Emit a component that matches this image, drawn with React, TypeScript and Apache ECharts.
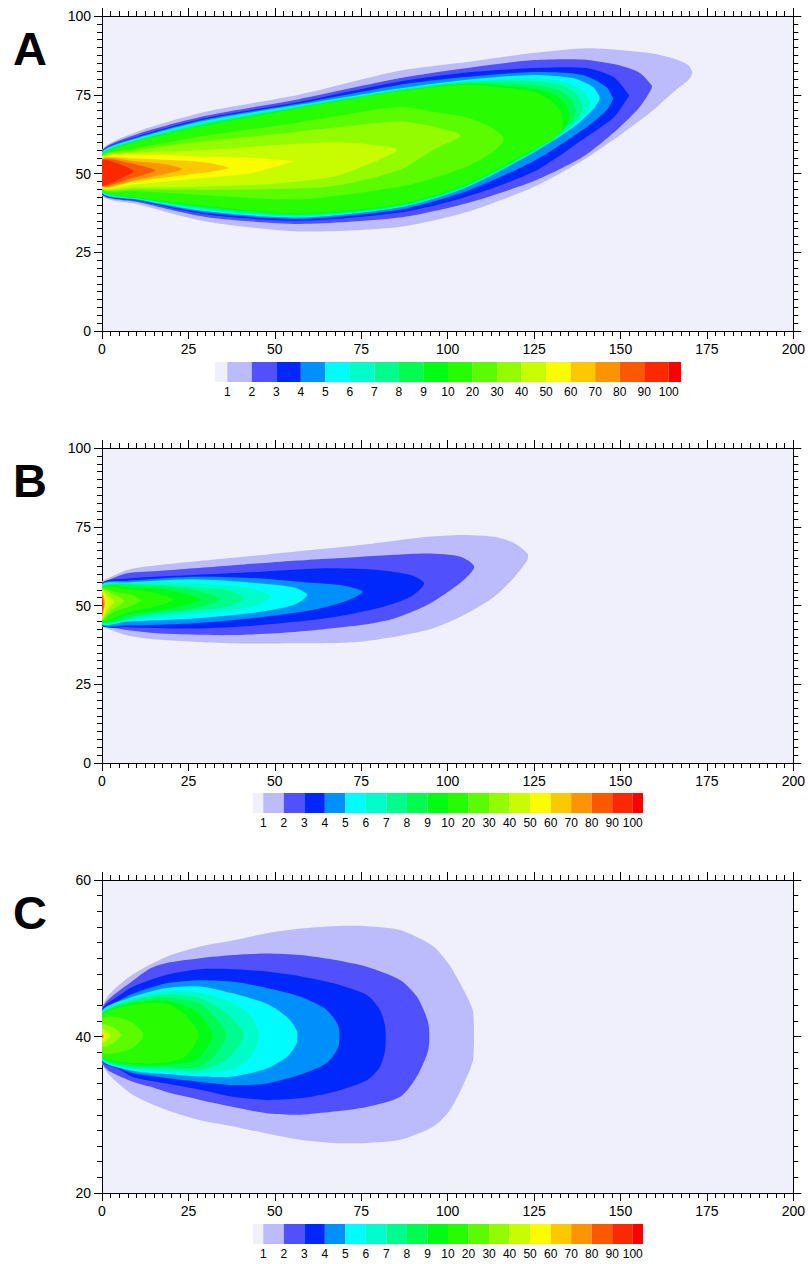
import React, { useEffect, useRef } from "react";
import * as echarts from "echarts";

// ---- colour scale (20 bands) and its labels ----
const cbColors = [
  "#f0f0fc", "#bcbcfc", "#5050fc", "#0028fc", "#0090fc", "#00fcfc", "#00fcc8",
  "#00fc8c", "#00fc50", "#00fc14", "#28fc00", "#5cfc00", "#94fc00", "#c8fc00",
  "#fcfc00", "#fcc800", "#fc9400", "#fc5800", "#fc2800", "#fc0000",
];
const cbLabels = ["1", "2", "3", "4", "5", "6", "7", "8", "9", "10", "20", "30", "40", "50", "60", "70", "80", "90", "100"];

// ---- axis ticks ----
const xTicks = [0, 25, 50, 75, 100, 125, 150, 175, 200];
const yTicksAB = [0, 25, 50, 75, 100];
const yTicksC = [20, 40, 60];

// ---- contour outlines: each contour = stations [x, yUpper, yLower] ----
const levelsA = [1, 2, 3, 4, 5, 6, 7, 8, 9, 10, 11, 12, 13, 14, 15, 16, 17, 18];
const plumeA = [
  [[0, 57.5, 43], [10, 63.2, 40.3], [30, 69.6, 34.8], [57, 75, 31.6], [86, 82.6, 33], [105, 85.3, 37.6], [125, 88.3, 45.8], [141, 89.8, 55.5], [158, 88.3, 68.8], [166, 86.3, 76.5], [169.5, 84.5, 79.5], [170.8, 82, 82]],
  [[0, 57.2, 43.3], [10, 62.4, 41], [30, 68.3, 36.2], [57, 73.6, 34], [86, 80.2, 36], [105, 83.4, 40.4], [125, 86, 47.6], [139, 86.2, 55.2], [149, 84.5, 63.9], [155.5, 82, 71], [159, 78, 77]],
  [[0, 57, 43.5], [10, 61.7, 41.4], [30, 67.6, 37], [57, 72.7, 35], [86, 79.2, 37.6], [105, 82, 42.5], [125, 83.5, 50.6], [140, 83.5, 61.5], [148, 80.6, 67.8], [152.4, 75, 74.5]],
  [[0, 56.8, 43.7], [10, 61.4, 41.6], [30, 67.2, 37.6], [57, 72.2, 35.6], [86, 78.1, 38.5], [105, 80.6, 44.2], [125, 82.2, 54], [139, 81.3, 63.8], [145.9, 77.5, 70], [147.8, 74, 73.5]],
  [[0, 56.6, 43.9], [10, 61.1, 41.8], [30, 66.8, 38], [57, 71.8, 36], [86, 77, 39.2], [105, 79.7, 45.4], [124.6, 81.3, 56.5], [136.2, 80.3, 64.5], [142, 77.5, 70.2], [143.9, 74.5, 73.5]],
  [[0, 56.4, 44.1], [10, 60.9, 42], [30, 66.4, 38.4], [57, 71.5, 36.3], [86, 76.8, 39.4], [105, 79.4, 45.6], [124.6, 80.3, 56.7], [134, 79, 63.5], [139.5, 76, 68.5], [141.3, 72.5, 71.5]],
  [[0, 56.2, 44.3], [10, 60.7, 42.1], [30, 66.1, 38.8], [57, 71.3, 36.6], [86, 76.6, 39.6], [105, 79.1, 45.8], [124.6, 79.3, 56.9], [133, 78, 63.3], [137.5, 75, 67.5], [139, 71.5, 70.5]],
  [[0, 56, 44.5], [10, 60.5, 42.2], [30, 65.8, 39.1], [57, 71.1, 36.9], [86, 76.4, 39.8], [105, 78.8, 46], [124.6, 78.2, 57.1], [132, 76.5, 62.8], [135.8, 73.5, 66.5], [137, 70.5, 69.5]],
  [[0, 55.9, 44.6], [10, 60.3, 42.3], [30, 65.5, 39.4], [57, 70.9, 37.1], [86, 76.2, 40], [105, 78.5, 46.2], [124.6, 77.1, 57.3], [131, 75, 61.5], [134.3, 72, 65], [135.2, 69, 68]],
  [[0, 55.8, 44.7], [10, 60.1, 42.4], [30, 65.2, 39.7], [57, 70.7, 37.3], [86, 76, 40.2], [105, 78.1, 46.4], [124.6, 76, 57.5], [130, 73, 60.5], [132.8, 69.5, 63.5], [133.3, 67, 66]],
  [[0, 55.6, 44.9], [9, 57.8, 44.5], [29, 61.8, 43.2], [57, 66.2, 41.8], [86, 71.2, 45.8], [95.8, 69.6, 48.5], [105.5, 67.8, 52.2], [112, 65, 56], [116, 61.7, 60]],
  [[0, 55.4, 45.1], [9, 57.2, 45], [29, 60.2, 44.8], [48, 62.2, 45], [67, 64.5, 46], [86, 66.5, 51.1], [95.8, 64.9, 57.5], [103.5, 62.5, 61.5]],
  [[0, 55.2, 45.3], [9, 56.6, 45.6], [29, 57.4, 45.9], [47.6, 58.8, 46.6], [67, 59.9, 49], [76.5, 59.3, 52.7], [85, 58, 57]],
  [[0, 55, 45.5], [9, 56, 46.5], [28.8, 55.4, 48.5], [43, 55, 50.1], [55.3, 54, 53.8]],
  [[0, 54.8, 45.7], [9, 54.8, 47.5], [20, 54.3, 49], [30, 53.5, 50.3], [36.5, 52, 51.6]],
  [[0, 54.6, 45.9], [10, 53.8, 48], [18, 53, 49.8], [23, 51.6, 51.2]],
  [[0, 54.4, 46.1], [8, 53.3, 48.3], [15.3, 51.2, 50.8]],
  [[0, 54.2, 46.3], [5, 53, 48.2], [9, 51, 50.5]],
];

const levelsB = [1, 2, 3, 4, 5, 6, 7, 8, 9, 10, 11, 12, 13, 14, 15, 16, 17, 18];
const plumeB = [
  [[0, 57.5, 43.3], [0.6, 58.1, 43], [7.3, 61.3, 40.5], [17, 62.9, 39.1], [36.3, 65, 38], [55.6, 67.1, 38], [74.9, 69.2, 38.5], [94.2, 71.8, 42.2], [103.8, 72.4, 46.5], [113.5, 71.8, 52.8], [119.3, 69.8, 59], [123.1, 66.5, 64.5]],
  [[0, 57.3, 43.5], [0.6, 57.6, 43.3], [7.3, 60.2, 42.2], [17, 61, 41.1], [36.3, 62.6, 40.6], [55.6, 64.2, 41.6], [74.9, 65.5, 43.8], [84.5, 66.1, 45.9], [94.2, 66.5, 50.2], [103.8, 65.5, 57.3], [107.7, 62.3, 62.3]],
  [[0, 57, 43.7], [7.3, 58.6, 43.1], [26.6, 59.7, 42.7], [45.9, 60.7, 43.8], [65.2, 61.8, 46], [79.7, 61.3, 49.1], [89.3, 59.7, 52.8], [93.2, 57, 57]],
  [[0, 56.8, 43.9], [7.3, 57.8, 43.7], [26.6, 59.1, 44.4], [45.9, 58.6, 46.3], [60.4, 57.2, 48.5], [70, 56.3, 51.2], [75.4, 54.4, 54.4]],
  [[0, 56.6, 44.1], [7.3, 57.3, 44.9], [26.6, 58.3, 45.9], [45.9, 57, 48], [55.6, 55.7, 50.2], [59.4, 53.3, 53.3]],
  [[0, 56.4, 44.3], [7.3, 56.9, 45.4], [17, 57.5, 46.5], [36.3, 56.4, 48.4], [43.5, 55.3, 49.6], [48.8, 52.8, 52.8]],
  [[0, 56.2, 44.5], [12.2, 56.8, 46.8], [31.5, 55.5, 48.9], [36.3, 54.9, 49.6], [41.1, 52.2, 52.2]],
  [[0, 56, 44.7], [12.2, 56.4, 47.2], [26.6, 55, 49.1], [34.3, 52, 52]],
  [[0, 55.8, 44.9], [7.3, 56, 46.9], [20, 54.8, 49.1], [28.6, 51.9, 51.9]],
  [[0, 55.6, 45.1], [7.3, 55.2, 47.8], [15.2, 54, 49.6], [20.8, 51.8, 51.8]],
  [[0, 55.3, 45.4], [3.5, 54.4, 48], [8.2, 53.5, 49.8], [11.2, 51.7, 51.7]],
  [[0, 55, 45.6], [2.6, 53.9, 48.4], [6.4, 51.5, 51.5]],
  [[0, 54.8, 45.8], [1.5, 53.5, 48.5], [3.5, 51.3, 51.3]],
  [[0, 54.6, 46], [1.5, 51.2, 51.2]],
  [[0, 54.4, 46.2], [0.9, 51, 51]],
  [[0, 54.2, 46.4], [0.7, 50.8, 50.8]],
  [[0, 53.4, 47.2], [0.5, 50.5, 50.5]],
  [[0, 52.5, 48], [0.3, 50.3, 50.3]],
];

const levelsC = [1, 2, 3, 4, 5, 6, 7, 8, 9, 10, 11, 12, 13, 14, 15, 16, 17];
const plumeC = [
  [[0, 43.6, 36.6], [2.3, 45.5, 35], [9.1, 48, 32.5], [18.7, 50.2, 30.6], [28.4, 51.5, 29.3], [38, 52.3, 28.5], [47.7, 53.2, 27.6], [57.3, 53.8, 26.8], [67, 54.1, 26.4], [76.6, 54.1, 26.4], [86.3, 53.6, 26.8], [95.9, 51.5, 28.5], [100.7, 49, 30.6], [105.6, 45.1, 34.9], [107.4, 43, 37.2]],
  [[0, 43.5, 36.7], [2, 44.8, 35.6], [9.1, 47.2, 34.2], [13.9, 48.7, 33.6], [18.7, 49.4, 32.9], [28.4, 50, 31.9], [38, 50.4, 31], [47.7, 50.6, 30.2], [57.3, 50.4, 30], [67, 49.8, 30.4], [76.6, 48.9, 31], [86.3, 47.2, 32.3], [91.1, 45.1, 34.9], [94.4, 41.7, 38.3]],
  [[0, 43.4, 36.8], [4.5, 45.1, 35.9], [9.1, 46.4, 34.8], [18.7, 47.9, 34], [28.4, 48.6, 33.2], [38, 48.6, 32.3], [47.7, 48.3, 31.9], [57.3, 47.7, 32.1], [67, 46.8, 32.9], [76.6, 45.3, 34.4], [80.4, 43.4, 36.1], [81.9, 41.3, 38.3]],
  [[0, 43.3, 36.9], [4.5, 44.5, 36.1], [9.1, 45.5, 35.3], [18.7, 46.8, 34.7], [28.4, 47.2, 34.2], [38, 47, 33.8], [47.7, 46.2, 34], [57.3, 45.1, 35.1], [65, 43.4, 36.6], [68.4, 41.3, 38.7]],
  [[0, 43.2, 37], [9.1, 45.1, 35.6], [18.7, 46.2, 35.2], [28.4, 46.4, 34.9], [38, 45.5, 34.9], [47.7, 44.2, 35.9], [53.5, 42.5, 37.4], [56.3, 40.8, 39.1]],
  [[0, 43.1, 37.1], [9.1, 44.9, 35.8], [18.7, 45.8, 35.5], [28.4, 45.6, 35.3], [38, 44.3, 35.8], [43, 42.6, 37.4], [45.5, 40.2, 40.2]],
  [[0, 43, 37.2], [9.1, 44.7, 36], [18.7, 45.4, 35.8], [28.4, 44.9, 35.7], [36, 43, 37], [41, 40.2, 40.2]],
  [[0, 42.9, 37.3], [9.1, 44.5, 36.2], [18.7, 45, 36.1], [28.4, 44.2, 36.1], [33, 42.3, 37.8], [36, 40.2, 40.2]],
  [[0, 42.8, 37.4], [9.1, 44.3, 36.4], [18.7, 44.6, 36.4], [27, 43.3, 36.9], [30.5, 41.6, 38.6], [32, 40.2, 40.2]],
  [[0, 42.7, 37.5], [9.1, 44.1, 36.6], [18.7, 44.2, 36.7], [24, 42.8, 37.4], [27, 41.2, 39], [28, 40.2, 40.2]],
  [[0, 42.2, 38], [4, 42.5, 37.9], [9, 41.7, 38.6], [12, 40.2, 40.2]],
  [[0, 41.5, 38.7], [3, 41.2, 39.1], [5.5, 40.2, 40.2]],
  [[0, 41, 39.2], [2.5, 40.1, 40.1]],
  [[0, 40.6, 39.5], [1.2, 40, 40]],
  [[0, 40.4, 39.7], [0.8, 40, 40]],
  [[0, 40.3, 39.8], [0.5, 40, 40]],
  [[0, 40.2, 39.85], [0.35, 40, 40]],
];

const panelLetters = ["A", "B", "C"];

const FONT = "Arial, 'Liberation Sans', Helvetica, sans-serif";

function valueAxis(gridIndex: number, position: string, min: number, max: number, interval: number, showLabel: boolean) {
  return {
    type: "value",
    gridIndex,
    position,
    min,
    max,
    interval,
    axisLine: { show: true, onZero: false, lineStyle: { color: "#000", width: 1 } },
    axisTick: { show: true, length: 8, lineStyle: { color: "#000", width: 1 } },
    minorTick: { show: true, splitNumber: 10, length: 5, lineStyle: { color: "#000", width: 1 } },
    splitLine: { show: false },
    minorSplitLine: { show: false },
    axisLabel: {
      show: showLabel,
      color: "#000",
      fontSize: 14,
      fontFamily: FONT,
      margin: 11,
      showMinLabel: true,
      showMaxLabel: true,
    },
  };
}

function plumeSeries(xAxisIndex: number, yAxisIndex: number, levels: number[], plume: number[][][], yMid: number) {
  return {
    type: "custom",
    xAxisIndex,
    yAxisIndex,
    clip: true,
    silent: true,
    data: plume.map((_, i) => [0, yMid, i]),
    encode: { x: 0, y: 1 },
    renderItem: (params: any, api: any) => {
      const st = plume[params.dataIndex];
      const upper = st.map((s) => api.coord([s[0], s[1]]));
      const rev = st.slice().reverse();
      const last = st[st.length - 1];
      const lowerSrc = last[1] === last[2] ? rev.slice(1) : rev;
      const lower = lowerSrc.map((s) => api.coord([s[0], s[2]]));
      return {
        type: "polygon",
        shape: { points: upper.concat(lower), smooth: 0.25 },
        style: { fill: cbColors[levels[params.dataIndex]], stroke: null },
      };
    },
  };
}

const cbSegments: number[][] = [[-0.5, 0, 0]];
for (let i = 0; i < 18; i++) cbSegments.push([i, i + 1, i + 1]);
cbSegments.push([18, 18.5, 19]);

function colorbarSeries(xAxisIndex: number, yAxisIndex: number) {
  return {
    type: "custom",
    xAxisIndex,
    yAxisIndex,
    silent: true,
    data: cbSegments.map((s) => [s[0], 0.5, s[1], s[2]]),
    encode: { x: 0, y: 1 },
    renderItem: (params: any, api: any) => {
      const s = cbSegments[params.dataIndex];
      const p0 = api.coord([s[0], 1]);
      const p1 = api.coord([s[1], 0]);
      return {
        type: "rect",
        shape: { x: p0[0], y: p0[1], width: p1[0] - p0[0], height: p1[1] - p0[1] },
        style: { fill: cbColors[s[2]], stroke: null },
      };
    },
  };
}

export default function App() {
  const ref = useRef<HTMLDivElement>(null);
  useEffect(() => {
    if (!ref.current) return;
    const chart = echarts.init(ref.current, null, { renderer: "svg" });

    const plotGrids = [
      { left: 102, top: 16, width: 692, height: 315 },
      { left: 102, top: 448, width: 692, height: 315 },
      { left: 102, top: 880, width: 692, height: 313 },
    ];
    const cbGrids = [
      { left: 215, top: 362, width: 466, height: 20 },
      { left: 253, top: 793, width: 390, height: 20 },
      { left: 253, top: 1224, width: 390, height: 20 },
    ];

    const grid: any[] = [];
    plotGrids.forEach((g) =>
      grid.push({ ...g, show: true, backgroundColor: "#f0f0fc", borderWidth: 0 })
    );
    cbGrids.forEach((g) => grid.push({ ...g, show: false }));

    const xAxis: any[] = [];
    const yAxis: any[] = [];
    const yRanges = [
      [yTicksAB[0], yTicksAB[yTicksAB.length - 1], 25],
      [yTicksAB[0], yTicksAB[yTicksAB.length - 1], 25],
      [yTicksC[0], yTicksC[yTicksC.length - 1], 20],
    ];
    for (let k = 0; k < 3; k++) {
      xAxis.push(valueAxis(k, "bottom", xTicks[0], xTicks[xTicks.length - 1], 25, true));
      xAxis.push(valueAxis(k, "top", xTicks[0], xTicks[xTicks.length - 1], 25, false));
      yAxis.push(valueAxis(k, "left", yRanges[k][0], yRanges[k][1], yRanges[k][2], true));
      yAxis.push(valueAxis(k, "right", yRanges[k][0], yRanges[k][1], yRanges[k][2], false));
    }
    for (let k = 0; k < 3; k++) {
      xAxis.push({
        type: "value",
        gridIndex: 3 + k,
        position: "bottom",
        min: -0.5,
        max: 18.5,
        axisLine: { show: false },
        axisTick: { show: false },
        splitLine: { show: false },
        axisLabel: {
          show: true,
          customValues: cbLabels.map((_, i) => i),
          formatter: (v: number) => cbLabels[Math.round(v)] ?? "",
          color: "#000",
          fontSize: 12,
          fontFamily: FONT,
          margin: 4,
        },
      });
      yAxis.push({
        type: "value",
        gridIndex: 3 + k,
        min: 0,
        max: 1,
        show: false,
      });
    }

    const series: any[] = [
      plumeSeries(0, 0, levelsA, plumeA, 50),
      plumeSeries(2, 2, levelsB, plumeB, 50),
      plumeSeries(4, 4, levelsC, plumeC, 40),
      colorbarSeries(6, 6),
      colorbarSeries(7, 7),
      colorbarSeries(8, 8),
    ];

    const letterTops = [49, 481, 913];
    const graphic = panelLetters.map((t, i) => ({
      type: "text",
      left: 13,
      top: letterTops[i] - 24,
      style: {
        text: t,
        font: `bold 47px ${FONT}`,
        fill: "#000",
      },
    }));

    chart.setOption({
      animation: false,
      backgroundColor: "#ffffff",
      grid,
      xAxis,
      yAxis,
      series,
      graphic,
    });
    return () => chart.dispose();
  }, []);

  return (
    <div
      ref={ref}
      style={{ position: "absolute", left: 0, top: 0, width: 808, height: 1264, background: "#fff" }}
    />
  );
}
